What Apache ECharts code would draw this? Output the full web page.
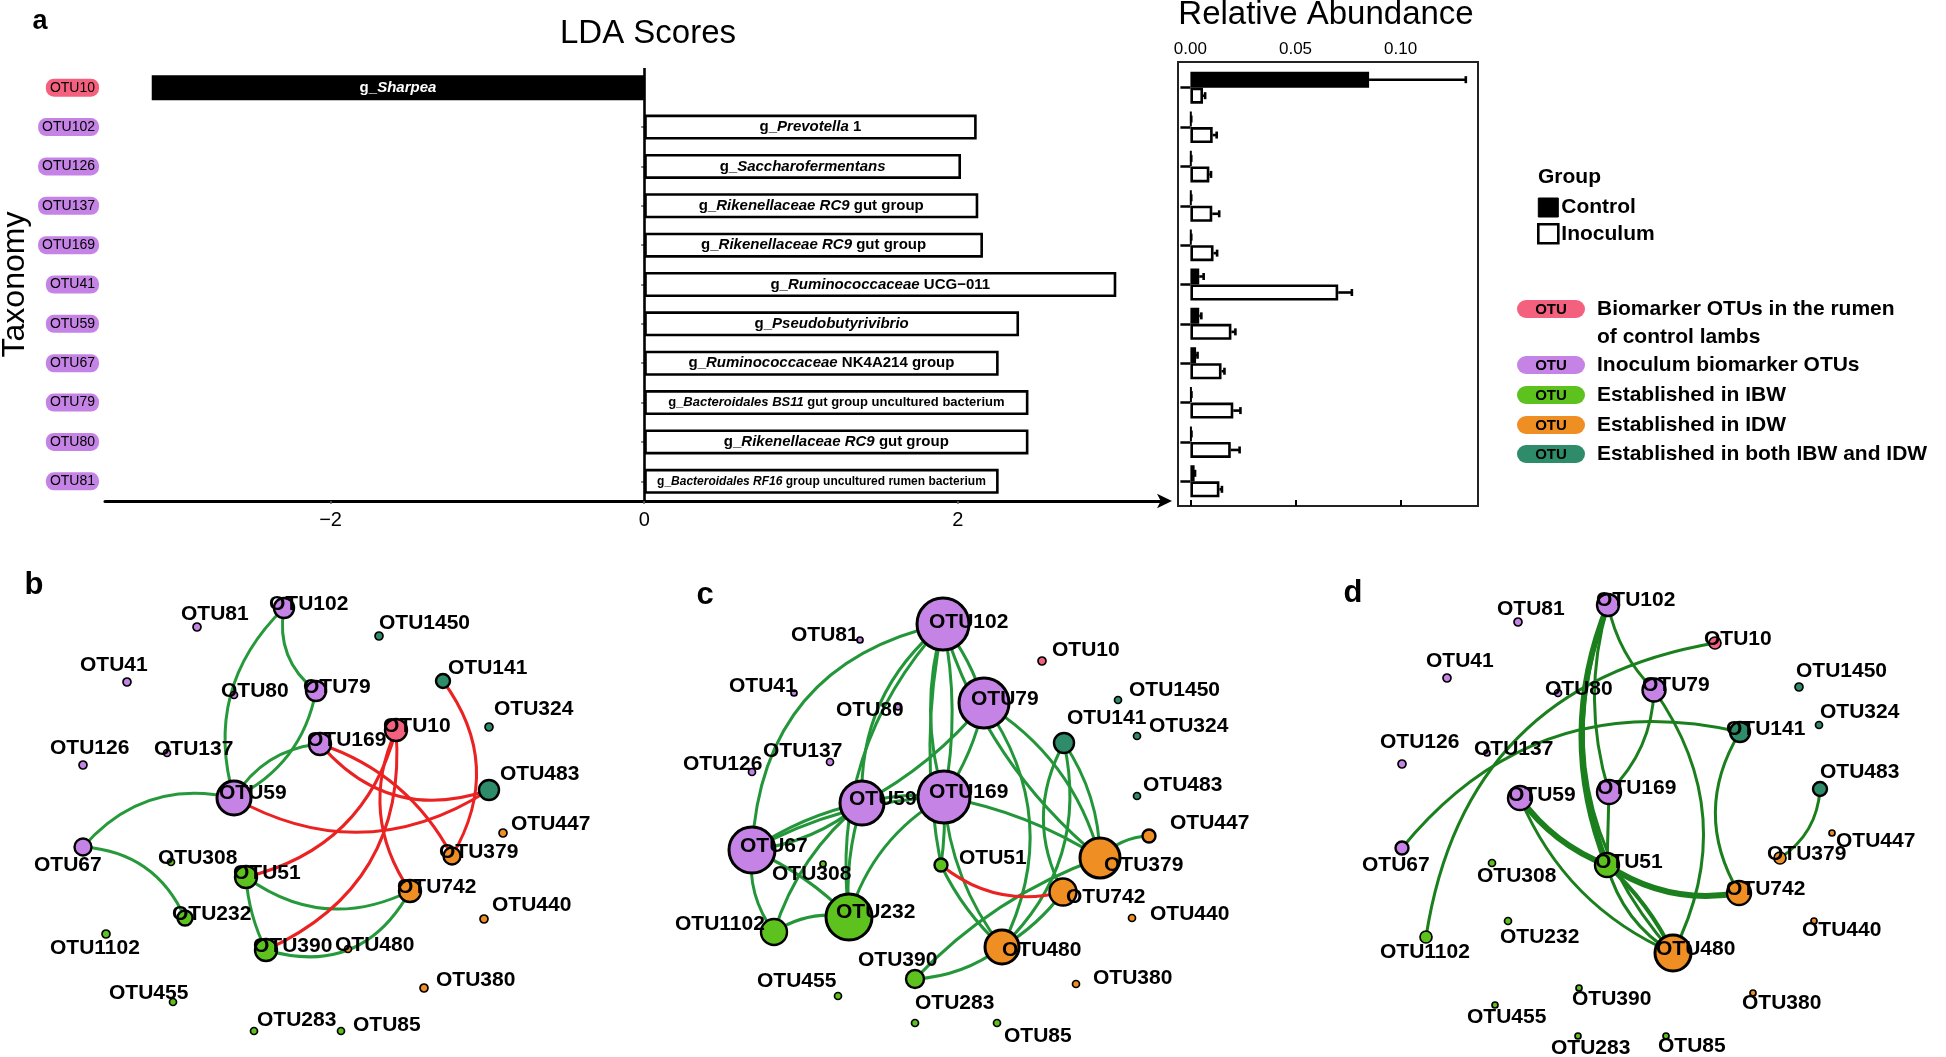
<!DOCTYPE html>
<html><head><meta charset="utf-8">
<script src="https://cdn.jsdelivr.net/npm/echarts/dist/echarts.min.js"></script>
<style>html,body{margin:0;padding:0;background:#fff}#c{width:1946px;height:1057px}</style>
</head><body><div id="c"></div>
<script>
// ---------- Panel a data ----------
const taxa = ['OTU10','OTU102','OTU126','OTU137','OTU169','OTU41','OTU59','OTU67','OTU79','OTU80','OTU81'];
const ldaScores = [-3.14, 2.12, 2.02, 2.13, 2.16, 3.01, 2.39, 2.26, 2.45, 2.45, 2.26];
const genusItalic = ['Sharpea','Prevotella','Saccharofermentans','Rikenellaceae RC9','Rikenellaceae RC9','Ruminococcaceae','Pseudobutyrivibrio','Ruminococcaceae','Bacteroidales BS11','Rikenellaceae RC9','Bacteroidales RF16'];
const genusSuffix = ['',' 1','',' gut group',' gut group',' UCG\u2212011','',' NK4A214 group',' gut group uncultured bacterium',' gut group',' group uncultured rumen bacterium'];
const ldaTicks = [-2, 0, 2];
const controlAbund = [0.085, 0.0004, 0.0004, 0.0004, 0.0004, 0.0042, 0.0042, 0.0027, 0.0005, 0.0005, 0.0020];
const controlErr   = [0.131, 0.0004, 0.0004, 0.0004, 0.0004, 0.0063, 0.0052, 0.0034, 0.0005, 0.0005, 0.0022];
const inocAbund    = [0.0060, 0.0106, 0.0090, 0.0104, 0.0110, 0.0703, 0.0195, 0.0148, 0.0204, 0.0192, 0.0138];
const inocErr      = [0.0070, 0.0125, 0.0098, 0.0137, 0.0127, 0.0768, 0.0214, 0.0162, 0.0238, 0.0234, 0.0150];
const abundTicks = [0, 0.05, 0.10];
const groupNames = ['Control','Inoculum'];
const legendLabels = [['Biomarker OTUs in the rumen','of control lambs'],['Inoculum biomarker OTUs'],['Established in IBW'],['Established in IDW'],['Established in both IBW and IDW']];

// ---------- Networks (b, c, d) ----------
const otuNames = ['OTU10','OTU102','OTU126','OTU137','OTU169','OTU41','OTU59','OTU67','OTU79','OTU80','OTU81','OTU51','OTU232','OTU308','OTU390','OTU455','OTU1102','OTU283','OTU85','OTU379','OTU742','OTU480','OTU440','OTU447','OTU380','OTU141','OTU483','OTU324','OTU1450'];
const otuGroup = [0,1,1,1,1,1,1,1,1,1,1,2,2,2,2,2,2,2,2,3,3,3,3,3,3,4,4,4,4];
// node layout coordinates (panel units)
const posB = [[396,170],[284,48],[83,205],[167,193],[320,184],[127,122],[234,238],[83,287],[316,131],[234,135],[197,67],[246,317],[185,358],[171,302],[266,390],[173,442],[106,374],[254,471],[341,471],[452,296],[410,331],[348,389],[484,359],[503,273],[424,428],[443,121],[489,230],[489,167],[379,76]];
const posC = [[382,101],[283,64],[92,212],[170,202],[284,237],[134,133],[202,243],[92,290],[324,143],[238,147],[200,80],[281,305],[189,357],[163,304],[255,419],[178,436],[114,372],[255,463],[337,463],[440,298],[403,332],[342,387],[472,358],[489,276],[416,424],[404,183],[477,236],[477,176],[458,140]];
const posD = [[415,83],[308,45],[102,204],[187,193],[309,232],[147,118],[220,238],[102,288],[354,130],[258,133],[218,62],[307,305],[208,361],[192,303],[279,428],[195,445],[126,377],[278,476],[366,476],[480,298],[439,333],[373,393],[514,361],[532,273],[453,433],[440,172],[520,229],[519,165],[499,127]];
// node importance (drawn as symbol diameter)
const sizeB = [22,20,8,7,22,8,34,17,20,7,8,22,15,7,22,7,8,7,7,17,22,7,8,8,8,14,20,8,8];
const sizeC = [8,52,7,7,52,6,44,46,50,6,6,13,46,6,18,7,26,7,7,40,27,34,7,13,7,20,7,7,7];
const sizeD = [12,22,8,6,24,8,24,13,23,7,8,24,7,7,6,6,12,6,6,12,24,36,6,6,6,20,14,7,8];
// edges: [source, target, sign (+1 positive / -1 negative), weight]
const linksB = [['OTU102','OTU59',1,1],['OTU102','OTU79',1,1],['OTU79','OTU59',1,1],['OTU169','OTU59',1,1],['OTU59','OTU67',1,1],['OTU67','OTU232',1,1],['OTU51','OTU390',1,1],['OTU51','OTU742',1,1],['OTU390','OTU742',1,1],
  ['OTU141','OTU379',-1,1],['OTU169','OTU483',-1,1],['OTU59','OTU483',-1,1],['OTU169','OTU379',-1,1],['OTU10','OTU51',-1,1],['OTU10','OTU390',-1,1],['OTU10','OTU742',-1,1]];
const linksC = [['OTU102','OTU67',1,1],['OTU102','OTU59',1,1],['OTU102','OTU232',1,1],['OTU102','OTU169',1,1],['OTU102','OTU169',1,1],['OTU102','OTU51',1,1],['OTU102','OTU79',1,1],['OTU102','OTU379',1,1],
  ['OTU79','OTU59',1,1],['OTU79','OTU169',1,1],['OTU79','OTU480',1,1],['OTU79','OTU379',1,1],['OTU141','OTU742',1,1],['OTU141','OTU480',1,1],['OTU141','OTU379',1,1],['OTU169','OTU379',1,1],['OTU169','OTU480',1,1],['OTU169','OTU51',1,1],
  ['OTU67','OTU169',1,1],['OTU59','OTU67',1,1],['OTU59','OTU67',1,1],['OTU59','OTU169',1,1],['OTU59','OTU232',1,1],['OTU59','OTU1102',1,1],['OTU67','OTU232',1,1],['OTU67','OTU1102',1,1],['OTU232','OTU1102',1,1],['OTU169','OTU232',1,1],
  ['OTU379','OTU447',1,1],['OTU379','OTU390',1,1],['OTU742','OTU480',1,1],['OTU480','OTU390',1,1],['OTU51','OTU480',1,1],['OTU51','OTU742',-1,1]];
const linksD = [['OTU102','OTU51',1,2],['OTU102','OTU480',1,1],['OTU102','OTU169',1,1],['OTU102','OTU79',1,1],['OTU10','OTU1102',1,1],['OTU141','OTU67',1,1],['OTU79','OTU169',1,1],['OTU79','OTU480',1,1],
  ['OTU141','OTU742',1,1],['OTU483','OTU379',1,1],['OTU59','OTU51',1,2],['OTU59','OTU480',1,1],['OTU169','OTU51',1,1],['OTU51','OTU742',1,2],['OTU51','OTU480',1,1],['OTU51','OTU480',1,1.4]];

// ---------- styling (not data) ----------
const FONT = '"Liberation Sans", Arial, Helvetica, sans-serif';
const groupColors = ['#F4617F','#C583E6','#5DC11E','#EF8E22','#2E8C6B'];
const curveB = [-0.3,-0.3,0.25,-0.25,-0.3,0.3,-0.1,-0.3,-0.4, 0.33,-0.34,-0.3,0.2,0.3,0.35,-0.28];
const curveC = [-0.38,-0.25,-0.23,-0.15,0.1,-0.1,0.1,-0.15, 0.1,0.1,0.3,0.2,-0.27,0.28,0.15,0.1,-0.15,0.05, 0.12,0.15,-0.1,0.1,-0.1,-0.15,0.1,-0.2,-0.2,-0.2, 0.2,-0.12,0.1,0.15,-0.1,-0.25];
const curveD = [-0.2,-0.3,-0.15,-0.15,-0.36,-0.31,0.2,0.3,-0.3,0.25,-0.15,-0.2,0,-0.2,-0.2,0.1];
const defOff = [-13,-4];
const offB = {OTU81:[-16,-13],OTU1450:[0,-13],OTU41:[-47,-17],OTU141:[5,-13],OTU324:[5,-18],OTU126:[-33,-17],OTU483:[11,-16],OTU447:[8,-9],OTU67:[-49,18],OTU440:[8,-14],OTU1102:[-56,14],OTU380:[12,-8],OTU455:[-64,-9],OTU283:[3,-11],OTU85:[12,-6],OTU59:[-15,-5],OTU102:[-15,-4]};
const offC = {OTU102:[-14,-2],OTU81:[-69,-5],OTU10:[10,-11],OTU41:[-65,-7],OTU1450:[11,-10],OTU80:[-62,3],OTU141:[3,-25],OTU324:[12,-10],OTU137:[-67,-11],OTU126:[-69,-8],OTU169:[-15,-5],OTU483:[6,-11],OTU447:[21,-13],OTU67:[-12,-4],OTU379:[4,7],OTU308:[-51,10],OTU51:[18,-7],OTU742:[3,5],OTU232:[-13,-5],OTU1102:[-99,-8],OTU440:[18,-4],OTU480:[0,3],OTU390:[-57,-19],OTU380:[17,-6],OTU455:[-81,-15],OTU283:[0,-20],OTU85:[7,13]};
const offD = {OTU102:[-12,-5],OTU81:[-21,-13],OTU10:[-11,-4],OTU41:[-21,-17],OTU1450:[-3,-16],OTU79:[-12,-5],OTU324:[1,-13],OTU141:[-14,-3],OTU126:[-22,-22],OTU483:[0,-17],OTU59:[-12,-3],OTU169:[-12,-4],OTU447:[4,8],OTU67:[-40,17],OTU308:[-15,13],OTU51:[-12,-3],OTU232:[-8,16],OTU440:[-12,9],OTU1102:[-46,15],OTU480:[-17,-4],OTU390:[-7,11],OTU380:[-11,10],OTU455:[-28,12],OTU283:[-27,12],OTU85:[-8,10]};

const panels = [
  {pos:posB, size:sizeB, links:linksB, curve:curveB, off:offB, green:'#26993B', left:0,    width:660, letter:'b', lx:34,   ly:587},
  {pos:posC, size:sizeC, links:linksC, curve:curveC, off:offC, green:'#23963A', left:660,  width:640, letter:'c', lx:705,  ly:597},
  {pos:posD, size:sizeD, links:linksD, curve:curveD, off:offD, green:'#1A7F1C', left:1300, width:646, letter:'d', lx:1353, ly:595}
];

const chart = echarts.init(document.getElementById('c'), null, {renderer:'canvas', width:1946, height:1057});

function ldaRich(i, dark){
  const col = dark ? '#fff' : '#000';
  const fs = i === 8 ? 13 : (i === 10 ? 12 : 15);
  return {n:{color:col, fontWeight:'bold', fontSize:fs, fontFamily:FONT},
          it:{color:col, fontWeight:'bold', fontStyle:'italic', fontSize:fs, fontFamily:FONT}};
}

const grids = [
  {left:105, top:68, width:1061, height:433, outerBoundsMode:'none', containLabel:false},
  {left:1178, top:68, width:300, height:433, outerBoundsMode:'none', containLabel:false},
  {left:1178, top:62, width:300, height:444, show:true, borderColor:'#222', borderWidth:2, backgroundColor:'transparent', outerBoundsMode:'none', containLabel:false}
];
const xAxes = [
  {type:'value', gridIndex:0, min:-3.438, max:3.327, splitLine:{show:false},
   axisLine:{show:true, onZero:false, symbol:['none','arrow'], symbolSize:[11,15], symbolOffset:[0,6], lineStyle:{color:'#000', width:3}},
   axisTick:{show:true, customValues:ldaTicks, length:3, lineStyle:{color:'#666', width:1.5}},
   axisLabel:{customValues:ldaTicks, fontSize:20, color:'#000', margin:9, fontFamily:FONT, formatter:v=>String(v).replace('-','\u2212')}},
  {type:'value', gridIndex:1, min:-0.0059, max:0.1368, show:false},
  {type:'value', gridIndex:2, position:'top', min:-0.0059, max:0.1368, splitLine:{show:false},
   axisLine:{show:false}, axisTick:{show:true, customValues:abundTicks, length:6, lineStyle:{color:'#000', width:2}},
   axisLabel:{customValues:abundTicks, fontSize:17, color:'#000', margin:4, fontFamily:FONT, formatter:v=>v.toFixed(2)}}
];
const yAxes = [
  {type:'category', gridIndex:0, data:taxa, inverse:true,
   name:'Taxonomy', nameLocation:'middle', nameRotate:90, nameGap:74, nameMoveOverlap:false, nameTextStyle:{fontSize:32, color:'#000', fontFamily:FONT},
   axisLine:{show:false}, axisTick:{show:true, alignWithLabel:true, length:3, lineStyle:{color:'#555', width:1.5}},
   axisLabel:{margin:6, formatter:v=> v==='OTU10' ? '{p|'+v+'}' : '{q|'+v+'}',
     rich:{p:{backgroundColor:groupColors[0], borderRadius:8, padding:[2,4,2,4], fontSize:14, lineHeight:15, color:'#000', fontFamily:FONT},
           q:{backgroundColor:groupColors[1], borderRadius:8, padding:[2,4,2,4], fontSize:14, lineHeight:15, color:'#000', fontFamily:FONT}}}},
  {type:'category', gridIndex:1, data:taxa, inverse:true, axisLine:{show:false}, axisLabel:{show:false},
   axisTick:{show:true, alignWithLabel:true, length:10, lineStyle:{color:'#000', width:2.5}}},
  {type:'value', gridIndex:2, min:0, max:1, show:false}
];

const series = [];
series.push({
  type:'bar', xAxisIndex:0, yAxisIndex:0, barWidth:25, silent:true,
  data: ldaScores.map((v,i)=>({value:v,
    itemStyle:{color: v<0 ? '#000' : '#fff', borderColor:'#000', borderWidth:2.6},
    label:{show:true, position:'inside', formatter:'{n|g_}{it|'+genusItalic[i]+'}{n|'+genusSuffix[i]+'}', rich:ldaRich(i, v<0)}})),
  markLine:{silent:true, symbol:'none', label:{show:false}, lineStyle:{color:'#000', width:2.6, type:'solid'}, data:[{xAxis:0}], animation:false}
});
series.push({type:'bar', name:groupNames[0], xAxisIndex:1, yAxisIndex:1, barWidth:16, barGap:'0%', silent:true, data:controlAbund,
  itemStyle:{color:'#000', borderColor:'#000', borderWidth:2}});
series.push({type:'bar', name:groupNames[1], xAxisIndex:1, yAxisIndex:1, barWidth:16, barGap:'0%', silent:true, data:inocAbund,
  itemStyle:{color:'#fff', borderColor:'#000', borderWidth:2.6}});
const errData = taxa.map((t,i)=>[i, controlAbund[i], controlErr[i], 0]).concat(taxa.map((t,i)=>[i, inocAbund[i], inocErr[i], 1]));
series.push({type:'custom', xAxisIndex:1, yAxisIndex:1, silent:true, data:errData, encode:{x:[1,2], y:0},
  renderItem:function(params, api){
    const idx = api.value(0), v = api.value(1), e = api.value(2), g = api.value(3);
    const a = api.coord([v, idx]), b = api.coord([e, idx]);
    const y = a[1] + (g === 0 ? -8 : 8);
    return {type:'group', children:[
      {type:'line', shape:{x1:a[0], y1:y, x2:b[0], y2:y}, style:{stroke:'#000', lineWidth:2.6}},
      {type:'line', shape:{x1:b[0], y1:y-3.5, x2:b[0], y2:y+3.5}, style:{stroke:'#000', lineWidth:2.6}}
    ]};
  }});

panels.forEach((P, pi)=>{
  const gi = 3 + pi;
  grids.push({left:P.left, top:560, width:P.width, height:497, outerBoundsMode:'none', containLabel:false});
  xAxes.push({type:'value', gridIndex:gi, min:0, max:P.width, show:false});
  yAxes.push({type:'value', gridIndex:gi, min:0, max:497, inverse:true, show:false});
  const nodes = otuNames.map((n,i)=>{
    const s = P.size[i];
    return {name:n, value:P.pos[i], symbolSize:s,
      itemStyle:{color:groupColors[otuGroup[i]], borderColor:'#000', borderWidth: s>30 ? 3 : (s>12 ? 2.4 : 1.7)},
      label:{show:true, position:'inside', align:'left', verticalAlign:'middle', offset:P.off[n] || defOff,
        fontSize:21, fontWeight:'bold', color:'#000', fontFamily:FONT}};
  });
  const links = P.links.map((l,k)=>({source:l[0], target:l[1],
    lineStyle:{color: l[2] > 0 ? P.green : '#EA2222', width: 3 * l[3], curveness:P.curve[k], opacity:1}}));
  series.push({type:'graph', coordinateSystem:'cartesian2d', xAxisIndex:gi, yAxisIndex:gi, silent:true,
    symbol:'circle', data:nodes, links:links, edgeSymbol:['none','none'],
    lineStyle:{opacity:1}, emphasis:{disabled:true}, animation:false});
});

const titles = [
  {text:'LDA Scores', left:648, top:17, textAlign:'center', padding:0, textStyle:{fontSize:33, fontWeight:'normal', color:'#000', fontFamily:FONT}},
  {text:'Relative Abundance', left:1326, top:-2, textAlign:'center', padding:0, textStyle:{fontSize:33, fontWeight:'normal', color:'#000', fontFamily:FONT}},
  {text:'Group', left:1538, top:167, padding:0, textStyle:{fontSize:21, fontWeight:'bold', color:'#000', fontFamily:FONT}},
  {text:'a', left:40, top:8, textAlign:'center', padding:0, textStyle:{fontSize:27, fontWeight:'bold', color:'#000', fontFamily:FONT}}
];
panels.forEach(P=>titles.push({text:P.letter, left:P.lx, top:P.ly-17, textAlign:'center', padding:0,
  textStyle:{fontSize:31, fontWeight:'bold', color:'#000', fontFamily:FONT}}));

const legendRowY = [309, 365, 395, 425, 454];
const graphic = [];
legendLabels.forEach((lines, k)=>{
  const cy = legendRowY[k];
  graphic.push({type:'rect', silent:true, shape:{x:1517, y:cy-9, width:68, height:18, r:9}, style:{fill:groupColors[k]}});
  graphic.push({type:'text', silent:true, x:1551, y:cy+1, style:{text:'OTU', font:'bold 15px '+FONT, fill:'#000', align:'center', verticalAlign:'middle', textAlign:'center', textVerticalAlign:'middle'}});
  lines.forEach((t, j)=>{
    graphic.push({type:'text', silent:true, x:1597, y:cy + j*28, style:{text:t, font:'bold 21px '+FONT, fill:'#000', align:'left', verticalAlign:'middle', textAlign:'left', textVerticalAlign:'middle'}});
  });
});

chart.setOption({
  animation:false,
  backgroundColor:'#fff',
  textStyle:{fontFamily:FONT},
  title:titles,
  legend:{orient:'vertical', left:1537, top:197, padding:0, itemWidth:20, itemHeight:19, itemGap:5, selectedMode:false,
    data:[{name:groupNames[0], icon:'rect', itemStyle:{color:'#000', borderColor:'#000', borderWidth:1}},
          {name:groupNames[1], icon:'rect', itemStyle:{color:'#fff', borderColor:'#000', borderWidth:2.6}}],
    textStyle:{fontSize:21, fontWeight:'bold', color:'#000', fontFamily:FONT, padding:[0,0,0,-2]}},
  grid:grids, xAxis:xAxes, yAxis:yAxes, series:series, graphic:graphic
});
</script></body></html>
